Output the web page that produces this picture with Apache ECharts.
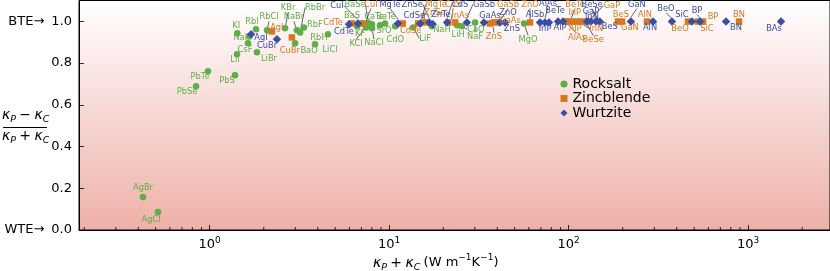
<!DOCTYPE html>
<html><head><meta charset="utf-8">
<script src="https://cdn.jsdelivr.net/npm/echarts@6/dist/echarts.min.js"></script>
<style>html,body{margin:0;padding:0;background:#fff}#c{width:830px;height:271px}</style>
</head><body><div id="c"></div>
<script>
// ---- data ----
const rocksaltNames = ['AgBr','AgCl','PbSe','PbTe','PbS','LiI','CsF','KI','NaI','RbI','LiBr','RbCl','KBr','NaBr','RbBr','RbF','BaO','LiCl','RbH','KF','KCl','NaCl','BaS','BaSe','CaTe','BaTe','SrO','CdO','LiF','NaH','LiH','CaO','NaF','MgO'];
const rocksaltKappa = [0.425,0.515,0.839,0.978,1.383,1.419,1.634,1.425,1.662,1.811,1.834,2.087,2.63,3.06,3.19,3.35,2.99,3.86,4.56,6.62,7.42,8.02,7.06,7.62,8.02,8.89,9.48,10.8,13.6,17.3,23.9,25.4,30.1,56.4];
const rocksaltRatio = [0.158,0.086,0.689,0.761,0.742,0.842,0.895,0.943,0.928,0.962,0.852,0.957,0.967,0.957,0.947,0.971,0.895,0.890,0.938,0.976,0.971,0.967,0.990,0.995,0.986,0.981,0.990,0.976,0.971,0.976,0.981,0.976,0.995,0.990];

const zincblendeNames = ['AgI','CuBr','CdTe','CuI','CdSe','MgTe','ZnSe','CdS','InAs','ZnS','GaAs','GaSb','ZnO','AlAs','BeTe','InP','AlP','InN','BeSe','GaP','BeS','GaN','AlN','BeO','SiC','BP','BN'];
const zincblendeKappa = [2.22,2.87,6.21,7.15,11.9,14.5,15.8,21.3,23.3,36.4,38.4,40.4,60.9,95.4,99.1,104,110,116,122,128,188,198,273,462,525,560,889];
const zincblendeRatio = [0.952,0.923,0.990,0.990,0.990,0.990,0.995,0.995,0.995,0.990,0.995,0.995,0.995,0.999,0.999,0.999,0.999,0.999,0.999,0.999,0.999,0.999,0.999,0.999,0.999,0.999,0.999];

const wurtziteNames = ['AgI','CuBr','CdTe','CuI','MgTe','CdSe','ZnSe','ZnTe','CdS','GaSb','GaAs','ZnS','ZnO','AlSb','AlAs','InP','BeTe','AlP','InN','GaP','BeSe','BeS','GaN','AlN','BeO','SiC','BP','BN','BAs'];
const wurtziteKappa = [1.70,2.37,5.97,6.70,11.2,14.9,16.7,17.5,21.0,27.1,33.7,41.4,44.2,69.2,73.8,77.7,87.2,93.0,126.5,133,142,149,222,295,376,486,539,752,1523];
const wurtziteRatio = [0.938,0.914,0.986,0.990,0.990,0.990,0.995,0.986,0.995,0.995,0.995,0.995,0.995,0.995,0.995,0.995,0.999,0.999,0.999,0.999,0.999,0.999,0.999,0.999,0.999,0.999,0.999,0.999,0.999];

const xMinorTicks = [0.2,0.3,0.4,0.5,0.6,0.7,0.8,0.9,2,3,4,5,6,7,8,9,20,30,40,50,60,70,80,90,200,300,400,500,600,700,800,900,2000];
const yTickValues = [0,0.2,0.4,0.6,0.8,1.0];

// ---- label layout (pixel offsets from marker, optional leader line) ----
const labelPlace = {
  Rocksalt: {AgBr:[0,-9],AgCl:[-7,8],PbSe:[-9,6],PbTe:[-8,6],PbS:[-8,6],LiI:[-2,6],CsF:[-3,7],KI:[-1,-7],NaI:[-9,1],RbI:[-4,-7],LiBr:[12,7],RbCl:[2,-13,1],KBr:[3,-20,1],NaBr:[-3,-13,1],RbBr:[15,-25,1],RbF:[11,-3],BaO:[14,8],LiCl:[15,6],RbH:[-9,4],KF:[3,7],KCl:[-10,16,1],NaCl:[2,15,1],BaS:[-10,-8],BaSe:[-13,-18,1],CaTe:[2,-7],BaTe:[6,-8],SrO:[-1,7],CdO:[0,13],LiF:[12,11,1],NaH:[10,3],LiH:[1,10],CaO:[14,3,1],NaF:[0,14,1],MgO:[4,16,1]},
  Zincblende: {AgI:[5,-4],CuBr:[-2,13],CdTe:[-19,-1],CuI:[8,-19,1],CdSe:[8,7],MgTe:[18,-19,1],ZnSe:[10,-10,1],CdS:[5,-18,1],InAs:[5,-7],ZnS:[4,13,1],GaAs:[16,-2],GaSb:[10,-18,1],ZnO:[0,-18,1],AlAs:[12,16,1],BeTe:[7,-17,1],InP:[3,-9],AlP:[-1,7],InN:[16,7,1],BeSe:[9,18,1],GaP:[24,-16,1],BeS:[3,-7],GaN:[8,6],AlN:[-2,-7],BeO:[-8,7],SiC:[9,7],BP:[10,-5],BN:[0,-7]},
  Wurtzite: {AgI:[10,4],CuBr:[-10,7],CdTe:[-5,8],CuI:[-21,-18,1],MgTe:[-8,-19,1],CdSe:[-6,-8],ZnSe:[-17,-18,1],ZnTe:[8,-9],CdS:[13,-18,1],GaSb:[17,-18,1],GaAs:[6,-7],ZnS:[12,6],ZnO:[3,-10],AlSb:[-5,-8],AlAs:[3,-19,1],InP:[-4,6],BeTe:[-3,-11],AlP:[-3,6],InN:[5,-5],GaP:[0,-10],BeSe:[-4,-17,1],BeS:[10,5],GaN:[6,-17,1],AlN:[-3,6],BeO:[-6,-13,1],SiC:[-10,-7],BP:[-3,-11,1],BN:[10,6],BAs:[-7,7]}
};

const FONT = 'DejaVu Sans';
const groups = [
  {key:'Rocksalt', names:rocksaltNames, kappa:rocksaltKappa, ratio:rocksaltRatio, color:'#5cae45', symbol:'circle', size:6.5},
  {key:'Zincblende', names:zincblendeNames, kappa:zincblendeKappa, ratio:zincblendeRatio, color:'#d6781f', symbol:'rect', size:6.5},
  {key:'Wurtzite', names:wurtziteNames, kappa:wurtziteKappa, ratio:wurtziteRatio, color:'#3b4ea3', symbol:'diamond', size:8.5}
];

function place(key, name){ return labelPlace[key][name] || [0,-8,0]; }

const scatterSeries = groups.map(g => ({
  name: g.key,
  type: 'scatter',
  symbol: g.symbol,
  symbolSize: g.size,
  itemStyle: {color: g.color, opacity: 1},
  data: g.names.map((n,i) => ({name:n, value:[g.kappa[i], g.ratio[i]], labelLine:{show: !!place(g.key,n)[2]}})),
  label: {show:true, position:'inside', formatter: p => p.name, color:g.color, fontSize:8.3, fontFamily:FONT},
  labelLine: {lineStyle:{color:'#000', width:0.6}},
  labelLayout: function(params){
    const p = place(g.key, g.names[params.dataIndex]);
    return {dx:p[0], dy:p[1]};
  },
  emphasis: {disabled:true},
  z: 3
}));

const minorTickSeries = {
  type:'custom',
  silent:true,
  data: xMinorTicks.map(v => [v, 0]),
  encode:{x:0, y:1},
  renderItem: (params, api) => {
    const p = api.coord([api.value(0), 0]);
    return {type:'line', shape:{x1:p[0], y1:p[1], x2:p[0], y2:p[1]-3}, style:{stroke:'#000', lineWidth:0.8}};
  },
  z: 5
};

const gridBox = {left:79, right:0, top:0.5, bottom:41};
const chart = echarts.init(document.getElementById('c'), null, {renderer:'canvas'});

const subRich = {
  k:{fontSize:14, fontStyle:'italic', fontFamily:FONT, lineHeight:20, color:'#000'},
  s:{fontSize:9.5, fontStyle:'italic', fontFamily:FONT, lineHeight:11, verticalAlign:'bottom', color:'#000'},
  o:{fontSize:14, fontFamily:FONT, lineHeight:20, color:'#000'},
  n:{fontSize:13, fontFamily:FONT, lineHeight:20, color:'#000'},
  p:{fontSize:9, fontFamily:FONT, lineHeight:10, verticalAlign:'top', color:'#000'}
};

chart.setOption({
  animation:false,
  textStyle:{fontFamily:FONT},
  grid: Object.assign({show:true, borderColor:'#000', borderWidth:1,
    backgroundColor:{type:'linear', x:0, y:0, x2:0, y2:1, colorStops:[{offset:0, color:'#ffffff'},{offset:0.06, color:'#fefafa'},{offset:1, color:'#eeb0a8'}]}}, gridBox),
  legend:{
    data:['Rocksalt','Zincblende','Wurtzite'], orient:'vertical', left:560.5, top:77, padding:0,
    itemWidth:7, itemHeight:7, itemGap:0.5, textStyle:{fontSize:14, color:'#000', fontFamily:FONT}
  },
  xAxis:{
    type:'log', logBase:10, min:0.187, max:2856,
    axisLine:{show:true, onZero:false, lineStyle:{color:'#000', width:1}},
    axisTick:{show:true, inside:true, length:5, lineStyle:{color:'#000', width:0.8}},
    splitLine:{show:false},
    axisLabel:{margin:6, showMinLabel:false, showMaxLabel:false, color:'#000',
      formatter: v => '{b|10}{s|' + Math.round(Math.log10(v)) + '}',
      rich:{b:{fontSize:13, fontFamily:FONT, lineHeight:18, color:'#000'}, s:{fontSize:9, fontFamily:FONT, lineHeight:10, verticalAlign:'top', color:'#000'}}
    }
  },
  yAxis:{
    type:'value', min:0, max:1.1,
    axisLine:{show:true, onZero:false, lineStyle:{color:'#000', width:1}},
    axisTick:{show:true, inside:true, length:5, customValues:yTickValues, lineStyle:{color:'#000', width:0.8}},
    splitLine:{show:false},
    axisLabel:{margin:7, color:'#000', fontSize:13, customValues:yTickValues,
      formatter: v => {
        const t = v.toFixed(1);
        if (Math.abs(v-1) < 1e-9) return '{a|BTE\u2192}' + t;
        if (Math.abs(v) < 1e-9) return '{a|WTE\u2192}' + t;
        return t;
      },
      rich:{a:{fontSize:13, fontFamily:FONT, color:'#000', padding:[0,7,0,0]}}
    }
  },
  graphic:[
    {type:'text', left:2, top:108, style:{text:'{k|\u03BA}{s|P} {o|\u2212} {k|\u03BA}{s|C}', rich:subRich}},
    {type:'line', shape:{x1:3, y1:127.5, x2:47, y2:127.5}, style:{stroke:'#000', lineWidth:1}},
    {type:'text', left:2, top:129, style:{text:'{k|\u03BA}{s|P} {o|+} {k|\u03BA}{s|C}', rich:subRich}},
    {type:'text', left:373, top:253, style:{text:'{k|\u03BA}{s|P} {o|+} {k|\u03BA}{s|C} {n|(W m}{p|\u22121}{n|K}{p|\u22121}{n|)}', rich:subRich}}
  ],
  series: scatterSeries.concat([minorTickSeries])
});
</script></body></html>
